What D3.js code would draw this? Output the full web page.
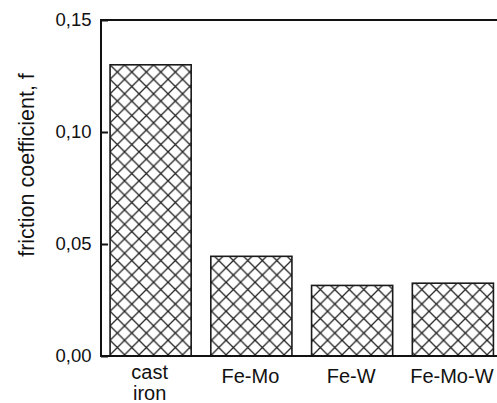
<!DOCTYPE html>
<html>
<head>
<meta charset="utf-8">
<script src="https://cdn.jsdelivr.net/npm/d3@7/dist/d3.min.js"></script>
<style>
  body { margin: 0; background: #fff; }
  svg { display: block; font-family: "Liberation Sans", Arial, sans-serif; }
</style>
</head>
<body>
<div id="chart"></div>
<script>
// data
const categories = ['cast iron', 'Fe-Mo', 'Fe-W', 'Fe-Mo-W'];
const frictionValues = [0.130, 0.0445, 0.0315, 0.0325];
const yTicks = [0, 0.05, 0.10, 0.15];

const w = 497, h = 403;
const svg = d3.select('#chart').append('svg')
  .attr('width', w)
  .attr('height', h);

const plotLeft = 101, plotTop = 20, plotBottom = 356;

const y = d3.scaleLinear()
  .domain([0, 0.15])
  .range([plotBottom, plotTop]);

const x = d3.scaleBand()
  .domain(categories)
  .range([plotLeft, 502.5])
  .paddingInner(0.195)
  .paddingOuter(0.09);

// cross hatch
const step = 14.5;
const pat = svg.append('defs').append('pattern')
  .attr('id', 'hatch')
  .attr('patternUnits', 'userSpaceOnUse')
  .attr('width', step)
  .attr('height', step)
  .attr('x', x(categories[0]))
  .attr('y', y(frictionValues[0]));
pat.append('rect').attr('width', step).attr('height', step).attr('fill', '#fff');
pat.append('path')
  .attr('d', `M0,0L${step},${step}M0,${step}L${step},0`)
  .attr('stroke', '#222')
  .attr('stroke-width', 1.3);

// bars
svg.append('g').selectAll('rect')
  .data(categories)
  .enter()
  .append('rect')
  .attr('x', d => x(d))
  .attr('width', x.bandwidth())
  .attr('y', (d, i) => y(frictionValues[i]))
  .attr('height', (d, i) => plotBottom - y(frictionValues[i]))
  .attr('fill', 'url(#hatch)')
  .attr('stroke', '#1a1a1a')
  .attr('stroke-width', 1.6);

// frame (right edge falls outside the picture)
svg.append('rect')
  .attr('x', plotLeft)
  .attr('y', plotTop)
  .attr('width', 420)
  .attr('height', plotBottom - plotTop)
  .attr('fill', 'none')
  .attr('stroke', '#111')
  .attr('stroke-width', 2);

// y axis, ticks point inward
const yAxis = d3.axisLeft(y)
  .tickValues(yTicks)
  .tickSize(-7)
  .tickPadding(9.5)
  .tickFormat(d => d.toFixed(2).replace('.', ','));
const ga = svg.append('g')
  .attr('transform', `translate(${plotLeft},0)`)
  .call(yAxis);
ga.select('.domain').remove();
ga.selectAll('.tick line').attr('stroke', '#111').attr('stroke-width', 2);
ga.selectAll('.tick text')
  .attr('fill', '#111')
  .style('font-size', '18.5px')
  .style('font-family', '"Liberation Sans", Arial, sans-serif');

// x labels
const lbl = svg.append('g').selectAll('text')
  .data(categories)
  .enter()
  .append('text')
  .attr('x', d => x(d) + x.bandwidth() / 2 - 1)
  .attr('y', 382.5)
  .attr('text-anchor', 'middle')
  .attr('fill', '#111')
  .style('font-size', '20px');
lbl.each(function(d) {
  const parts = d.split(' ');
  const t = d3.select(this);
  if (parts.length > 1) {
    t.attr('y', 379);
    parts.forEach((p, k) => {
      t.append('tspan')
        .attr('x', t.attr('x'))
        .attr('dy', k ? 20.5 : 0)
        .text(p);
    });
  } else {
    t.text(d);
  }
});

// y label
svg.append('text')
  .attr('transform', 'translate(34,165) rotate(-90)')
  .attr('text-anchor', 'middle')
  .attr('fill', '#111')
  .style('font-size', '21.5px')
  .text('friction coefficient, f');
</script>
</body>
</html>
